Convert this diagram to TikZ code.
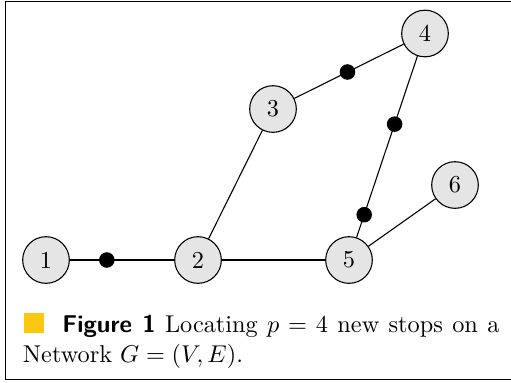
\documentclass[tikz,border=0pt]{standalone}
\usetikzlibrary{calc}
\definecolor{lipicsYellow}{rgb}{0.99,0.78,0.07}
\begin{document}
\begin{tikzpicture}[x=0.4115pt,y=-0.4115pt,
  vtx/.style={circle,draw,line width=0.45pt,fill=black!10,minimum size=19.2pt,inner sep=0pt,font=\fontsize{10}{12}\selectfont},
  stop/.style={circle,fill=black,minimum size=6.4pt,inner sep=0pt},
  edge/.style={line width=0.45pt},
  frame/.style={line width=0.8pt}]
\useasboundingbox (0,0) rectangle (511,382);
\draw[frame] (511,1.5) -- (5.5,1.5) -- (5.5,379.5) -- (511,379.5);
\node[vtx] (n1) at (46,260) {1};
\node[vtx] (n2) at (198,260) {2};
\node[vtx] (n3) at (273,109) {3};
\node[vtx] (n4) at (425,33.5) {4};
\node[vtx] (n5) at (349,260) {5};
\node[vtx] (n6) at (455,185) {6};
\draw[edge] (n1) -- (n2);
\draw[edge] (n2) -- (n5);
\draw[edge] (n2) -- (n3);
\draw[edge] (n3) -- (n4);
\draw[edge] (n4) -- (n5);
\draw[edge] (n5) -- (n6);
\node[stop] (s1) at ($(n1)!0.4!(n2)$) {};
\node[stop] (s2) at ($(n3)!0.49!(n4)$) {};
\node[stop] (s3) at ($(n4)!0.4!(n5)$) {};
\node[stop] (s4) at ($(n4)!0.8!(n5)$) {};
\fill[lipicsYellow] (24,313) rectangle (44,333);
\node[anchor=base west,inner sep=0pt] (cap1) at (62,332) {\makebox[179.8pt][s]{\textsf{\bfseries Figure 1} Locating $p=4$ new stops on a}};
\node[anchor=base west,inner sep=0pt] (cap2) at (22.5,362) {Network $G=(V,E)$.};
\end{tikzpicture}
\end{document}
